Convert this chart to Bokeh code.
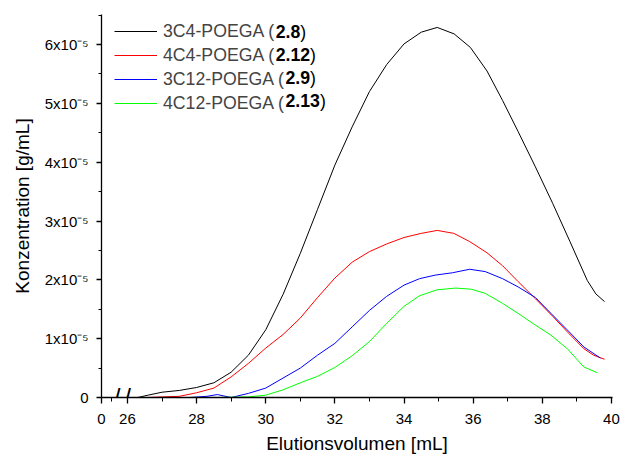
from bokeh.plotting import figure
from bokeh.models import FixedTicker, Legend, LegendItem, Label, Range1d
from bokeh.embed import file_html
from bokeh.resources import INLINE

# ---- data (concentration in units of 1e-5 g/mL) ----
x_3c4 = [26.3, 26.6, 27.0, 27.5, 28.0, 28.5, 29.0, 29.5, 30.0, 30.5, 31.0, 31.5, 32.0, 32.5, 33.0,
         33.5, 34.0, 34.5, 34.96, 35.45, 35.92, 36.4, 36.85, 37.3, 37.8, 38.3, 38.8, 39.3, 39.55, 39.8]
y_3c4 = [0.0, 0.04, 0.09, 0.12, 0.17, 0.25, 0.43, 0.72, 1.15, 1.75, 2.45, 3.2, 3.95, 4.6, 5.2,
         5.66, 6.01, 6.21, 6.29, 6.18, 5.95, 5.55, 5.05, 4.52, 3.92, 3.3, 2.65, 1.99, 1.76, 1.63]
x_4c4 = [26.6, 27.0, 27.5, 28.0, 28.5, 29.0, 29.5, 30.0, 30.5, 31.0, 31.5, 32.0, 32.5, 33.0, 33.5,
         34.0, 34.5, 34.96, 35.44, 35.9, 36.4, 36.85, 37.3, 37.8, 38.3, 38.75, 39.2, 39.48, 39.8]
y_4c4 = [0.0, 0.01, 0.02, 0.08, 0.16, 0.35, 0.58, 0.84, 1.07, 1.35, 1.7, 2.03, 2.3, 2.48, 2.61,
         2.72, 2.79, 2.84, 2.79, 2.65, 2.46, 2.24, 1.97, 1.68, 1.38, 1.1, 0.83, 0.72, 0.65]
x_3c12 = [27.8, 28.3, 28.6, 29.0, 29.5, 30.0, 30.5, 31.0, 31.5, 32.0, 32.5, 33.0, 33.5, 34.0,
          34.45, 34.9, 35.4, 35.9, 36.35, 36.85, 37.3, 37.8, 38.25, 38.72, 39.2, 39.68]
y_3c12 = [0.0, 0.02, 0.05, 0.0, 0.07, 0.16, 0.33, 0.5, 0.72, 0.92, 1.2, 1.48, 1.72, 1.91,
          2.02, 2.08, 2.12, 2.18, 2.14, 2.02, 1.88, 1.7, 1.43, 1.15, 0.86, 0.67]
x_4c12 = [28.6, 29.5, 30.0, 30.5, 31.0, 31.5, 32.0, 32.5, 33.0, 33.5, 34.0, 34.45, 34.95, 35.5,
          35.95, 36.35, 36.85, 37.3, 37.8, 38.25, 38.72, 39.2, 39.59]
y_4c12 = [0.0, 0.01, 0.04, 0.13, 0.25, 0.36, 0.51, 0.71, 0.95, 1.26, 1.55, 1.73, 1.83, 1.86,
          1.84, 1.77, 1.6, 1.43, 1.23, 1.06, 0.83, 0.52, 0.42]

series_names = ["3C4-POEGA (", "4C4-POEGA (", "3C12-POEGA (", "4C12-POEGA ("]
series_bold = ["2.8", "2.12", "2.9", "2.13"]
series_colors = ["#000000", "#ff0000", "#0000ff", "#00ff00"]

# x axis: broken axis, "0" shown just left of 26
x_ticks = [25.25, 26, 28, 30, 32, 34, 36, 38, 40]
x_tick_labels = ["0", "26", "28", "30", "32", "34", "36", "38", "40"]
x_minor = [25.53, 27, 29, 31, 33, 35, 37, 39]
x_break_marks = [25.70, 26.0]
y_ticks = [0.0, 1e-5, 2e-5, 3e-5, 4e-5, 5e-5, 6e-5]
y_tick_labels = ["0", "1x10\u207b\u2075", "2x10\u207b\u2075", "3x10\u207b\u2075",
                 "4x10\u207b\u2075", "5x10\u207b\u2075", "6x10\u207b\u2075"]
y_minor = [0.5e-5, 1.5e-5, 2.5e-5, 3.5e-5, 4.5e-5, 5.5e-5, 6.5e-5]

FONT = "Liberation Sans"
W, H = 622, 457
BL, BR, BT, BB = 101, 10, 14, 60
frame_h = H - BT - BB

p = figure(width=W, height=H, output_backend="svg", toolbar_location=None,
           x_range=Range1d(25.25, 40.03), y_range=Range1d(0, 6.51e-5),
           min_border_left=BL, min_border_right=BR, min_border_top=BT, min_border_bottom=BB)
p.outline_line_color = None
p.grid.visible = False
p.background_fill_color = "white"
p.border_fill_color = "white"

xs = [x_3c4, x_4c4, x_3c12, x_4c12]
ys = [y_3c4, y_4c4, y_3c12, y_4c12]
renderers = []
for xv, yv, c in zip(xs, ys, series_colors):
    r = p.line(xv, [v * 1e-5 for v in yv], line_color=c, line_width=1)
    renderers.append(r)

# axes
p.xaxis.ticker = FixedTicker(ticks=x_ticks, minor_ticks=x_minor)
p.xaxis.major_label_overrides = dict(zip(x_ticks, x_tick_labels))
p.yaxis.ticker = FixedTicker(ticks=y_ticks, minor_ticks=y_minor)
p.yaxis.major_label_overrides = dict(zip(y_ticks, y_tick_labels))

for ax in (p.xaxis[0], p.yaxis[0]):
    ax.axis_line_color = "black"
    ax.axis_line_width = 1.3
    ax.major_tick_line_color = "black"
    ax.minor_tick_line_color = "black"
    ax.major_tick_line_width = 1.3
    ax.minor_tick_line_width = 1.0
    ax.major_tick_in = 0
    ax.minor_tick_in = 0
    ax.major_label_text_font = FONT
    ax.major_label_text_font_size = "15px"
    ax.major_label_text_color = "black"
    ax.axis_label_text_font = FONT
    ax.axis_label_text_font_size = "19px"
    ax.axis_label_text_font_style = "normal"
    ax.axis_label_text_color = "black"

p.xaxis.major_tick_out = 6
p.xaxis.minor_tick_out = 4
p.xaxis.major_label_standoff = 10
p.xaxis.axis_label = "Elutionsvolumen [mL]"
p.xaxis.axis_label_standoff = 6
p.yaxis.major_tick_out = 5
p.yaxis.minor_tick_out = 3
p.yaxis.major_label_standoff = 8
p.yaxis.axis_label = "Konzentration [g/mL]"
p.yaxis.axis_label_standoff = 9

# axis break marks
for bx in x_break_marks:
    p.add_layout(Label(x=bx, y=0, y_units="screen", text="/", text_font=FONT,
                       text_font_size="25px", text_align="center", text_baseline="middle",
                       text_color="black"))

# legend (normal part)
fs = 17.7
items = [LegendItem(label=n, renderers=[r]) for n, r in zip(series_names, renderers)]
legend = Legend(items=items, location=(13, frame_h - 99.5), padding=0, margin=0, spacing=3,
                glyph_width=43, glyph_height=20, label_height=20, label_standoff=6,
                label_text_font=FONT, label_text_font_size=f"{fs}px",
                border_line_alpha=0, background_fill_alpha=0)
p.add_layout(legend)

# bold part of the legend texts
W_NORMAL = {"3": 556, "4": 556, "1": 556, "2": 556, "C": 722, "-": 333, "P": 667, "O": 778,
            "E": 667, "G": 778, "A": 667, " ": 278, "(": 333}
W_BOLD = {"1": 556, "2": 556, "3": 556, "8": 556, "9": 556, ".": 278}
text_x0 = 13 + 43 + 6
for i, (n, b) in enumerate(zip(series_names, series_bold)):
    cy = frame_h - (17 + i * 23)
    wx = text_x0 + sum(W_NORMAL[ch] for ch in n) * fs / 1000
    p.add_layout(Label(x=wx, y=cy, x_units="screen", y_units="screen", text=b,
                       text_font=FONT, text_font_size=f"{fs}px", text_font_style="bold",
                       text_baseline="middle", text_color="black"))
    wb = sum(W_BOLD[ch] for ch in b) * fs / 1000
    p.add_layout(Label(x=wx + wb, y=cy, x_units="screen", y_units="screen", text=")",
                       text_font=FONT, text_font_size=f"{fs}px",
                       text_baseline="middle", text_color="black"))

open("out.html", "w").write(file_html(p, INLINE))
